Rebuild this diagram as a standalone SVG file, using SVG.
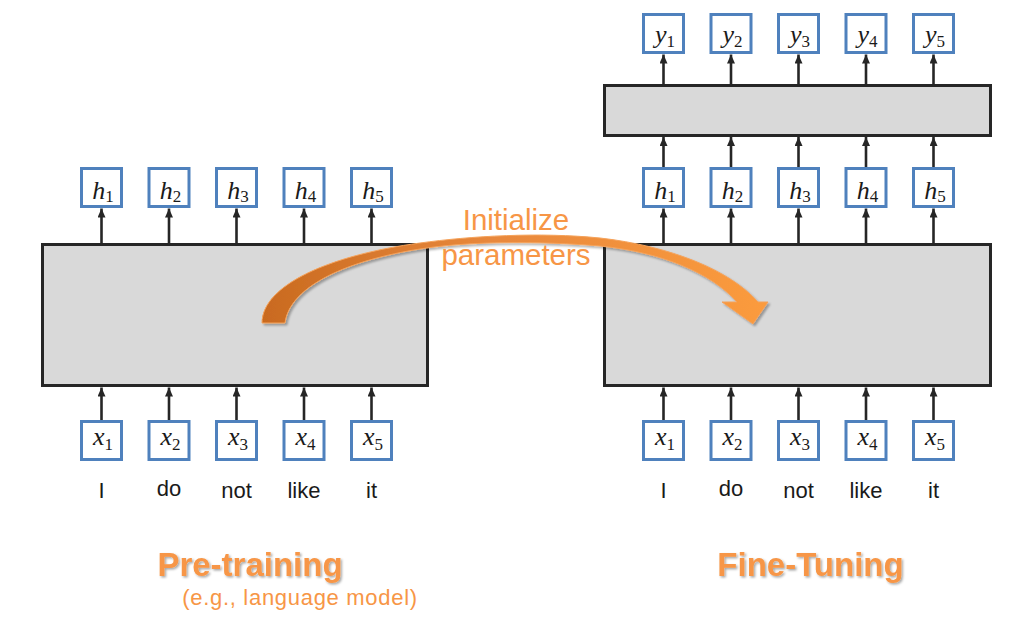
<svg xmlns="http://www.w3.org/2000/svg" width="1028" height="629" viewBox="0 0 1028 629">
<defs>
<style>
.layer{fill:#D9D9D9;stroke:#262626;stroke-width:3}
.tok{fill:#FFFFFF;stroke:#4F81BD;stroke-width:3}
.conn{stroke:#262626;stroke-width:2.6;fill:none}
.math{font-family:"Liberation Serif","DejaVu Serif",serif;font-style:italic;font-size:26px;fill:#1a1a1a}
.sub{font-style:normal;font-size:17px}
.word{font-family:"Liberation Sans",Arial,sans-serif;font-size:22px;fill:#1a1a1a;text-anchor:middle}
.title{font-family:"Liberation Sans",Arial,sans-serif;font-weight:bold;font-size:33px;fill:#F79646;text-anchor:middle}
.note{font-family:"Liberation Sans",Arial,sans-serif;font-size:29.5px;fill:#F79646;text-anchor:middle}
.sub2{font-family:"Liberation Sans",Arial,sans-serif;font-size:22px;fill:#F79646;text-anchor:middle;letter-spacing:0.7px}
</style>
<marker id="ah" viewBox="0 0 9 8" refX="9" refY="4" markerWidth="9" markerHeight="8" markerUnits="userSpaceOnUse" orient="auto">
<path d="M0,0 L9,4 L0,8 z" fill="#262626"/>
</marker>
<linearGradient id="og" x1="262" y1="0" x2="768" y2="0" gradientUnits="userSpaceOnUse">
<stop offset="0" stop-color="#C96A1F"/>
<stop offset="0.45" stop-color="#E8883C"/>
<stop offset="1" stop-color="#FB9B3E"/>
</linearGradient>
<filter id="sh" x="-10%" y="-10%" width="130%" height="130%">
<feDropShadow dx="2" dy="2" stdDeviation="1.2" flood-color="#000" flood-opacity="0.3"/>
</filter>
<filter id="tsh" x="-10%" y="-20%" width="120%" height="150%">
<feDropShadow dx="1.5" dy="1.5" stdDeviation="0.8" flood-color="#000" flood-opacity="0.35"/>
</filter>
</defs>
<rect width="1028" height="629" fill="#FFFFFF"/>

<g id="pretrain-layer"><rect class="layer" x="42.5" y="244.5" width="385" height="141"/></g>
<g id="finetune-layer"><rect class="layer" x="604.5" y="244.5" width="386" height="141"/></g>
<g id="output-layer"><rect class="layer" x="604.5" y="85.5" width="386" height="50"/></g>

<g id="connectors">
<line class="conn" x1="101.5" y1="245" x2="101.5" y2="208.5" marker-end="url(#ah)"/>
<line class="conn" x1="169" y1="245" x2="169" y2="208.5" marker-end="url(#ah)"/>
<line class="conn" x1="236.5" y1="245" x2="236.5" y2="208.5" marker-end="url(#ah)"/>
<line class="conn" x1="304" y1="245" x2="304" y2="208.5" marker-end="url(#ah)"/>
<line class="conn" x1="371.5" y1="245" x2="371.5" y2="208.5" marker-end="url(#ah)"/>
<line class="conn" x1="101.5" y1="420" x2="101.5" y2="387.5" marker-end="url(#ah)"/>
<line class="conn" x1="169" y1="420" x2="169" y2="387.5" marker-end="url(#ah)"/>
<line class="conn" x1="236.5" y1="420" x2="236.5" y2="387.5" marker-end="url(#ah)"/>
<line class="conn" x1="304" y1="420" x2="304" y2="387.5" marker-end="url(#ah)"/>
<line class="conn" x1="371.5" y1="420" x2="371.5" y2="387.5" marker-end="url(#ah)"/>
<line class="conn" x1="663.5" y1="245" x2="663.5" y2="208.5" marker-end="url(#ah)"/>
<line class="conn" x1="731" y1="245" x2="731" y2="208.5" marker-end="url(#ah)"/>
<line class="conn" x1="798.5" y1="245" x2="798.5" y2="208.5" marker-end="url(#ah)"/>
<line class="conn" x1="866" y1="245" x2="866" y2="208.5" marker-end="url(#ah)"/>
<line class="conn" x1="933.5" y1="245" x2="933.5" y2="208.5" marker-end="url(#ah)"/>
<line class="conn" x1="663.5" y1="420" x2="663.5" y2="387.5" marker-end="url(#ah)"/>
<line class="conn" x1="731" y1="420" x2="731" y2="387.5" marker-end="url(#ah)"/>
<line class="conn" x1="798.5" y1="420" x2="798.5" y2="387.5" marker-end="url(#ah)"/>
<line class="conn" x1="866" y1="420" x2="866" y2="387.5" marker-end="url(#ah)"/>
<line class="conn" x1="933.5" y1="420" x2="933.5" y2="387.5" marker-end="url(#ah)"/>
<line class="conn" x1="663.5" y1="167" x2="663.5" y2="137" marker-end="url(#ah)"/>
<line class="conn" x1="731" y1="167" x2="731" y2="137" marker-end="url(#ah)"/>
<line class="conn" x1="798.5" y1="167" x2="798.5" y2="137" marker-end="url(#ah)"/>
<line class="conn" x1="866" y1="167" x2="866" y2="137" marker-end="url(#ah)"/>
<line class="conn" x1="933.5" y1="167" x2="933.5" y2="137" marker-end="url(#ah)"/>
<line class="conn" x1="663.5" y1="86" x2="663.5" y2="54.5" marker-end="url(#ah)"/>
<line class="conn" x1="731" y1="86" x2="731" y2="54.5" marker-end="url(#ah)"/>
<line class="conn" x1="798.5" y1="86" x2="798.5" y2="54.5" marker-end="url(#ah)"/>
<line class="conn" x1="866" y1="86" x2="866" y2="54.5" marker-end="url(#ah)"/>
<line class="conn" x1="933.5" y1="86" x2="933.5" y2="54.5" marker-end="url(#ah)"/>
</g>

<!-- Pre-training hidden -->
<g id="pt-h1"><rect class="tok" x="81.5" y="168.5" width="40" height="38"/><text class="math" x="103" y="199" text-anchor="middle">h<tspan class="sub" dy="3">1</tspan></text></g>
<g id="pt-h2"><rect class="tok" x="149" y="168.5" width="40" height="38"/><text class="math" x="170.5" y="199" text-anchor="middle">h<tspan class="sub" dy="3">2</tspan></text></g>
<g id="pt-h3"><rect class="tok" x="216.5" y="168.5" width="40" height="38"/><text class="math" x="238" y="199" text-anchor="middle">h<tspan class="sub" dy="3">3</tspan></text></g>
<g id="pt-h4"><rect class="tok" x="284" y="168.5" width="40" height="38"/><text class="math" x="305.5" y="199" text-anchor="middle">h<tspan class="sub" dy="3">4</tspan></text></g>
<g id="pt-h5"><rect class="tok" x="351.5" y="168.5" width="40" height="38"/><text class="math" x="373" y="199" text-anchor="middle">h<tspan class="sub" dy="3">5</tspan></text></g>
<!-- Pre-training inputs -->
<g id="pt-x1"><rect class="tok" x="81.5" y="421.5" width="40" height="38"/><text class="math" x="103" y="445" text-anchor="middle">x<tspan class="sub" dy="5">1</tspan></text></g>
<g id="pt-x2"><rect class="tok" x="149" y="421.5" width="40" height="38"/><text class="math" x="170.5" y="445" text-anchor="middle">x<tspan class="sub" dy="5">2</tspan></text></g>
<g id="pt-x3"><rect class="tok" x="216.5" y="421.5" width="40" height="38"/><text class="math" x="238" y="445" text-anchor="middle">x<tspan class="sub" dy="5">3</tspan></text></g>
<g id="pt-x4"><rect class="tok" x="284" y="421.5" width="40" height="38"/><text class="math" x="305.5" y="445" text-anchor="middle">x<tspan class="sub" dy="5">4</tspan></text></g>
<g id="pt-x5"><rect class="tok" x="351.5" y="421.5" width="40" height="38"/><text class="math" x="373" y="445" text-anchor="middle">x<tspan class="sub" dy="5">5</tspan></text></g>
<g id="pt-words">
<text class="word" x="101.5" y="498">I</text>
<text class="word" x="169" y="496">do</text>
<text class="word" x="236.5" y="498">not</text>
<text class="word" x="304" y="498">like</text>
<text class="word" x="371.5" y="498">it</text>
</g>

<!-- Fine-tuning outputs -->
<g id="ft-y1"><rect class="tok" x="643.5" y="14.5" width="40" height="38"/><text class="math" x="665" y="43" text-anchor="middle">y<tspan class="sub" dy="4">1</tspan></text></g>
<g id="ft-y2"><rect class="tok" x="711" y="14.5" width="40" height="38"/><text class="math" x="732.5" y="43" text-anchor="middle">y<tspan class="sub" dy="4">2</tspan></text></g>
<g id="ft-y3"><rect class="tok" x="778.5" y="14.5" width="40" height="38"/><text class="math" x="800" y="43" text-anchor="middle">y<tspan class="sub" dy="4">3</tspan></text></g>
<g id="ft-y4"><rect class="tok" x="846" y="14.5" width="40" height="38"/><text class="math" x="867.5" y="43" text-anchor="middle">y<tspan class="sub" dy="4">4</tspan></text></g>
<g id="ft-y5"><rect class="tok" x="913.5" y="14.5" width="40" height="38"/><text class="math" x="935" y="43" text-anchor="middle">y<tspan class="sub" dy="4">5</tspan></text></g>
<!-- Fine-tuning hidden -->
<g id="ft-h1"><rect class="tok" x="643.5" y="168.5" width="40" height="38"/><text class="math" x="665" y="199" text-anchor="middle">h<tspan class="sub" dy="3">1</tspan></text></g>
<g id="ft-h2"><rect class="tok" x="711" y="168.5" width="40" height="38"/><text class="math" x="732.5" y="199" text-anchor="middle">h<tspan class="sub" dy="3">2</tspan></text></g>
<g id="ft-h3"><rect class="tok" x="778.5" y="168.5" width="40" height="38"/><text class="math" x="800" y="199" text-anchor="middle">h<tspan class="sub" dy="3">3</tspan></text></g>
<g id="ft-h4"><rect class="tok" x="846" y="168.5" width="40" height="38"/><text class="math" x="867.5" y="199" text-anchor="middle">h<tspan class="sub" dy="3">4</tspan></text></g>
<g id="ft-h5"><rect class="tok" x="913.5" y="168.5" width="40" height="38"/><text class="math" x="935" y="199" text-anchor="middle">h<tspan class="sub" dy="3">5</tspan></text></g>
<!-- Fine-tuning inputs -->
<g id="ft-x1"><rect class="tok" x="643.5" y="421.5" width="40" height="38"/><text class="math" x="665" y="445" text-anchor="middle">x<tspan class="sub" dy="5">1</tspan></text></g>
<g id="ft-x2"><rect class="tok" x="711" y="421.5" width="40" height="38"/><text class="math" x="732.5" y="445" text-anchor="middle">x<tspan class="sub" dy="5">2</tspan></text></g>
<g id="ft-x3"><rect class="tok" x="778.5" y="421.5" width="40" height="38"/><text class="math" x="800" y="445" text-anchor="middle">x<tspan class="sub" dy="5">3</tspan></text></g>
<g id="ft-x4"><rect class="tok" x="846" y="421.5" width="40" height="38"/><text class="math" x="867.5" y="445" text-anchor="middle">x<tspan class="sub" dy="5">4</tspan></text></g>
<g id="ft-x5"><rect class="tok" x="913.5" y="421.5" width="40" height="38"/><text class="math" x="935" y="445" text-anchor="middle">x<tspan class="sub" dy="5">5</tspan></text></g>
<g id="ft-words">
<text class="word" x="663.5" y="498">I</text>
<text class="word" x="731" y="496">do</text>
<text class="word" x="798.5" y="498">not</text>
<text class="word" x="866" y="498">like</text>
<text class="word" x="933.5" y="498">it</text>
</g>

<!-- Initialize parameters arrow -->
<g id="init-arrow">
<path d="M262,323 C262,285 330,255 420,243 C470,236 540,232 600,238 C670,246 730,270 758,302 L768,302 L753,324 L722,302 L737,302 C710,272 660,252 600,246 C540,241 470,241 420,249 C350,260 290,285 285,323 Z" fill="url(#og)" stroke="#F5A25A" stroke-width="1" filter="url(#sh)"/>
<text class="note" x="516" y="230">Initialize</text>
<text class="note" x="516" y="265">parameters</text>
</g>

<g id="titles">
<text class="title" x="250" y="576" filter="url(#tsh)">Pre-training</text>
<text class="sub2" x="300" y="605">(e.g., language model)</text>
<text class="title" x="810.5" y="576" filter="url(#tsh)">Fine-Tuning</text>
</g>
</svg>
